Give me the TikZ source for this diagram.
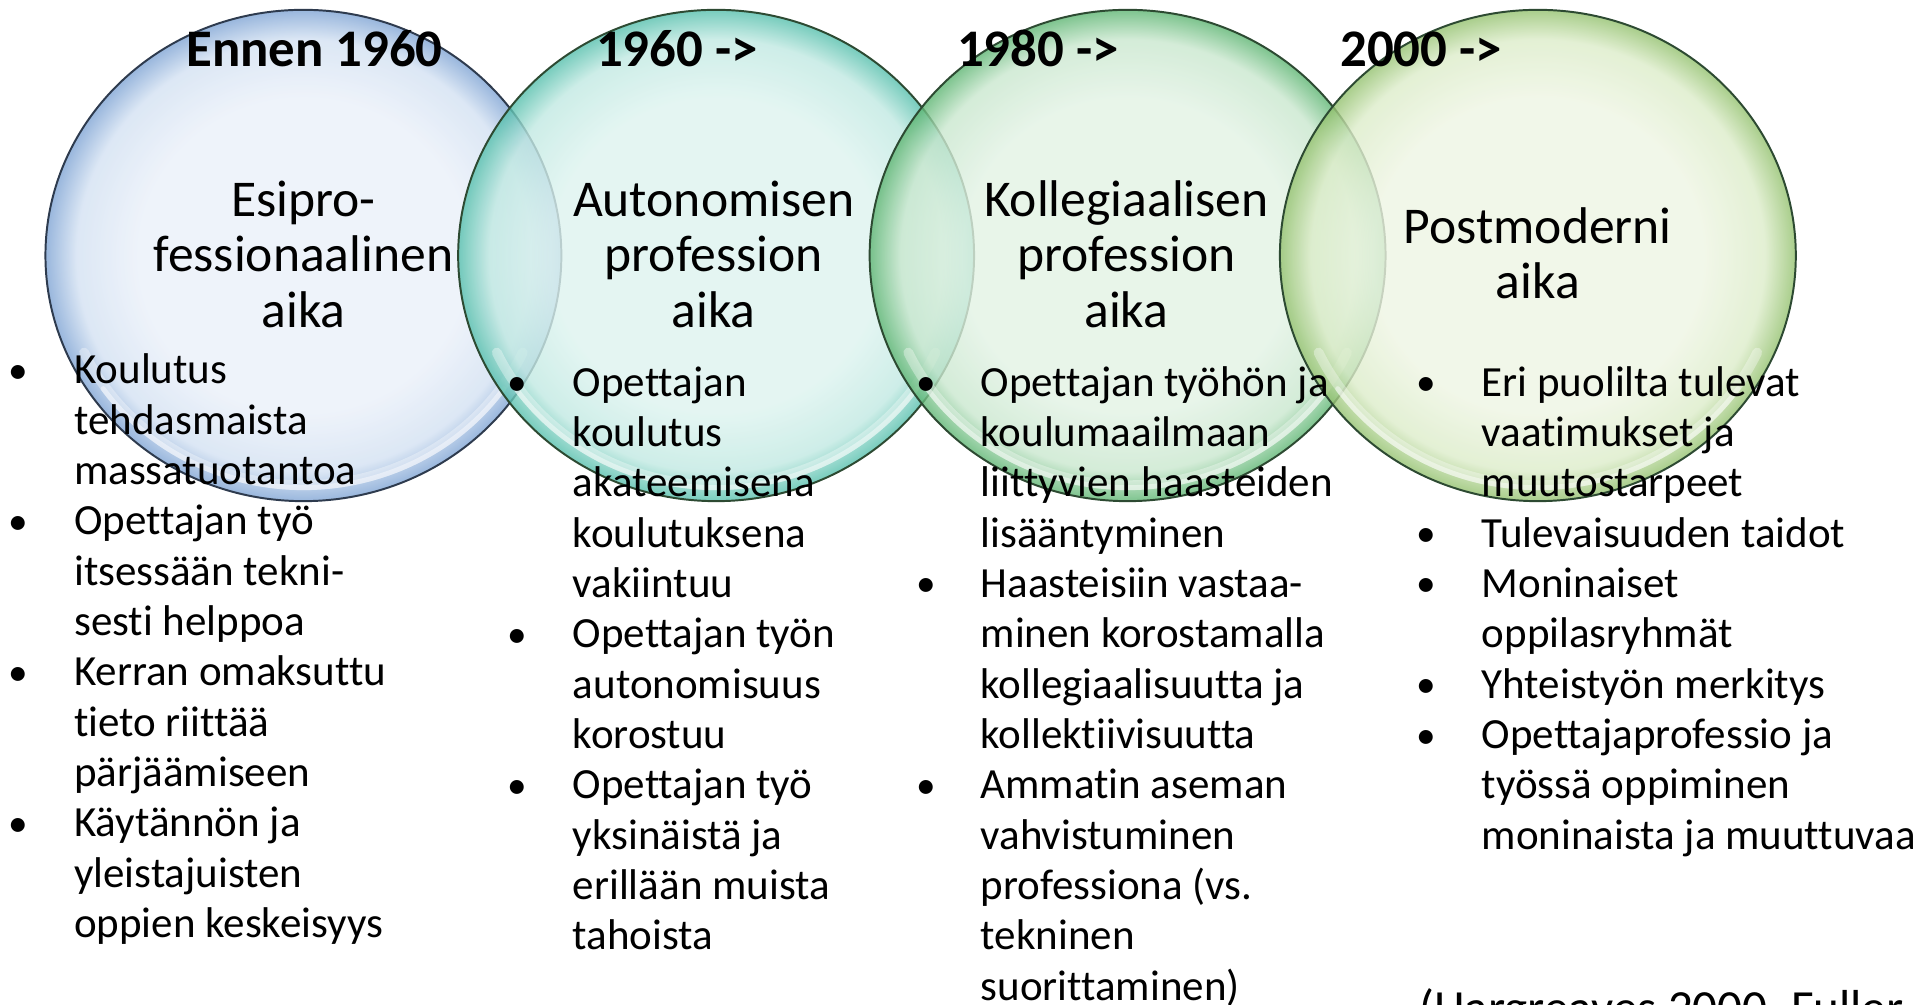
\documentclass[tikz,border=0pt]{standalone}
\usepackage{fontspec}
\setmainfont{Carlito}[Ligatures=NoCommon]
\usetikzlibrary{shapes.geometric}
\definecolor{aIn}{HTML}{EAF0F9}
\definecolor{aMid}{HTML}{D3E1F2}
\definecolor{aOut}{HTML}{7FA4D4}
\definecolor{aLine}{HTML}{2E3B4E}
\definecolor{bIn}{HTML}{DDF3EF}
\definecolor{bMid}{HTML}{C1E9E2}
\definecolor{bOut}{HTML}{55BFAC}
\definecolor{cIn}{HTML}{E2F2E4}
\definecolor{cMid}{HTML}{C9E7CE}
\definecolor{cOut}{HTML}{5DB572}
\definecolor{dIn}{HTML}{EEF5E3}
\definecolor{dMid}{HTML}{DCECC9}
\definecolor{dOut}{HTML}{93C16E}
\definecolor{gLine}{HTML}{2D4A32}
\pgfdeclareradialshading{glassA}{\pgfpoint{0bp}{0bp}}{color(0bp)=(aIn); color(16bp)=(aIn); color(22bp)=(aMid); color(25bp)=(aOut); color(50bp)=(aOut)}
\pgfdeclareradialshading{glassB}{\pgfpoint{0bp}{0bp}}{color(0bp)=(bIn); color(16bp)=(bIn); color(22bp)=(bMid); color(25bp)=(bOut); color(50bp)=(bOut)}
\pgfdeclareradialshading{glassC}{\pgfpoint{0bp}{0bp}}{color(0bp)=(cIn); color(16bp)=(cIn); color(22bp)=(cMid); color(25bp)=(cOut); color(50bp)=(cOut)}
\pgfdeclareradialshading{glassD}{\pgfpoint{0bp}{0bp}}{color(0bp)=(dIn); color(16bp)=(dIn); color(22bp)=(dMid); color(25bp)=(dOut); color(50bp)=(dOut)}
\newcommand\blitem[5]{%
  \node[bul] (#1b) at (#2,#4) {•};
  \node[itemtxt] (#1) at (#3,#4-28.7) {\strut #5};}
\newcommand\glint[1]{%
  \draw[hlA] ([shift={(25:197 and 187)}]#1.center) arc[start angle=25, end angle=155, x radius=197, y radius=187];
  \draw[hlB] ([shift={(35:199 and 189)}]#1.center) arc[start angle=35, end angle=145, x radius=199, y radius=189];}
\begin{document}
\begin{tikzpicture}[x=0.5pt,y=-0.5pt,
  ring/.style={ellipse, inner sep=0, minimum width=210pt, minimum height=200pt,
    fill opacity=0.8, line width=0.8pt},
  hlA/.style={white, line width=4pt, opacity=0.35, line cap=round},
  hlB/.style={white, line width=2pt, opacity=0.45, line cap=round},
  head/.style={font=\fontsize{21.5}{24}\selectfont\bfseries, inner sep=0, anchor=base},
  ttl/.style={font=\fontsize{21}{22.5}\selectfont, align=center, inner sep=0, anchor=north},
  itemtxt/.style={font=\fontsize{17.5}{20.5}\selectfont, align=left, inner sep=0, anchor=north west},
  bul/.style={font=\fontsize{16}{20.5}\selectfont, inner sep=0, anchor=base},
  reftxt/.style={font=\fontsize{20}{24}\selectfont, inner sep=0, anchor=base west}]
\useasboundingbox (0,0) rectangle (1568,818);
\begin{scope}
\clip (0,0) rectangle (1568,818);
% circles
\node[ring, shading=glassA, draw=aLine] (e1) at (247,208) {};
\glint{e1}
\node[ring, shading=glassB, draw=gLine] (e2) at (583,208) {};
\glint{e2}
\node[ring, shading=glassC, draw=gLine] (e3) at (918,208) {};
\glint{e3}
\node[ring, shading=glassD, draw=gLine] (e4) at (1252,208) {};
\glint{e4}
% headings
\node[head] (h1) at (256,54) {Ennen 1960};
\node[head] (h2) at (551,54) {1960 ->};
\node[head] (h3) at (845,54) {1980 ->};
\node[head] (h4) at (1157,54) {2000 ->};
% titles
\node[ttl] (t1) at (247,144.5) {\strut Esipro-\\fessionaalinen\\aika};
\node[ttl] (t2) at (581,144.5) {\strut Autonomisen\\profession\\aika};
\node[ttl] (t3) at (917,144.5) {\strut Kollegiaalisen\\profession\\aika};
\node[ttl] (t4) at (1252,166.5) {\strut Postmoderni\\aika};
% column 1
\blitem{a1}{15}{60}{312}{Koulutus\\tehdasmaista\\massatuotantoa}
\blitem{a2}{15}{60}{435}{Opettajan työ\\itsessään tekni-\\sesti helppoa}
\blitem{a3}{15}{60}{558}{Kerran omaksuttu\\tieto riittää\\pärjäämiseen}
\blitem{a4}{15}{60}{681}{Käytännön ja\\yleistajuisten\\oppien keskeisyys}
% column 2
\blitem{b1}{421}{466}{322}{Opettajan\\koulutus\\akateemisena\\koulutuksena\\vakiintuu}
\blitem{b2}{421}{466}{527}{Opettajan työn\\autonomisuus\\korostuu}
\blitem{b3}{421}{466}{650}{Opettajan työ\\yksinäistä ja\\erillään muista\\tahoista}
% column 3
\blitem{k1}{754}{798}{322}{Opettajan työhön ja\\koulumaailmaan\\liittyvien haasteiden\\lisääntyminen}
\blitem{k2}{754}{798}{486}{Haasteisiin vastaa-\\minen korostamalla\\kollegiaalisuutta ja\\kollektiivisuutta}
\blitem{k3}{754}{798}{650}{Ammatin aseman\\vahvistuminen\\professiona (vs.\\tekninen\\suorittaminen)}
% column 4
\blitem{p1}{1161}{1206}{322}{Eri puolilta tulevat\\vaatimukset ja\\muutostarpeet}
\blitem{p2}{1161}{1206}{445}{Tulevaisuuden taidot}
\blitem{p3}{1161}{1206}{486}{Moninaiset\\oppilasryhmät}
\blitem{p4}{1161}{1206}{568}{Yhteistyön merkitys}
\blitem{p5}{1161}{1206}{609}{Opettajaprofessio ja\\työssä oppiminen\\moninaista ja muuttuvaa}
% reference
\node[reftxt] (ref) at (1155,834) {(Hargreaves 2000, Fuller};
\end{scope}
\end{tikzpicture}
\end{document}
